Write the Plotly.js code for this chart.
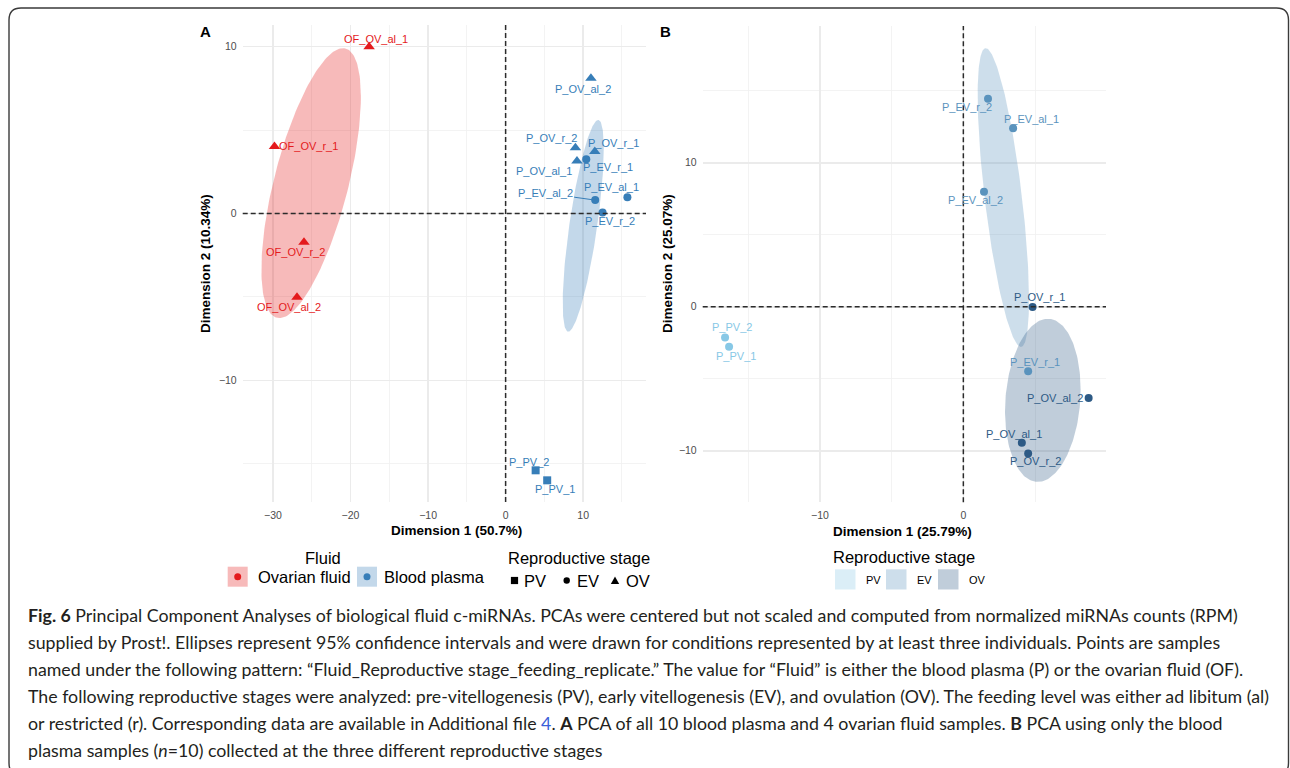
<!DOCTYPE html>
<html>
<head>
<meta charset="utf-8">
<script src="https://cdn.plot.ly/plotly-3.0.1.min.js"></script>
<style>
html,body{margin:0;padding:0;background:#ffffff;}
#chart{width:1290px;height:768px;}
</style>
</head>
<body>
<div id="chart"></div>
<script>
// ---------------- Panel A data (all samples) ----------------
const samplesA = ['OF_OV_al_1','OF_OV_r_1','OF_OV_r_2','OF_OV_al_2','P_OV_al_2','P_OV_r_2','P_OV_r_1','P_EV_r_1','P_OV_al_1','P_EV_al_2','P_EV_al_1','P_EV_r_2','P_PV_2','P_PV_1'];
const dim1A = [-17.6,-29.8,-26.0,-26.9,11.0,9.0,11.5,10.4,9.2,11.55,15.7,12.5,3.87,5.36];
const dim2A = [10.0,4.02,-1.73,-5.02,8.1,3.94,3.72,3.25,3.15,0.8,0.97,0.06,-15.4,-16.0];
const fluidA = ['Ovarian fluid','Ovarian fluid','Ovarian fluid','Ovarian fluid','Blood plasma','Blood plasma','Blood plasma','Blood plasma','Blood plasma','Blood plasma','Blood plasma','Blood plasma','Blood plasma','Blood plasma'];
const stageA = ['OV','OV','OV','OV','OV','OV','OV','EV','OV','EV','EV','EV','PV','PV'];
const fluidLevels = ['Ovarian fluid','Blood plasma'];
const stageLevels = ['PV','EV','OV'];

// ---------------- Panel B data (blood plasma only) ----------------
const samplesB = ['P_EV_r_2','P_EV_al_1','P_EV_al_2','P_OV_r_1','P_PV_2','P_PV_1','P_EV_r_1','P_OV_al_2','P_OV_al_1','P_OV_r_2'];
const dim1B = [1.72,3.47,1.44,4.83,-16.62,-16.34,4.52,8.74,4.08,4.52];
const dim2B = [14.44,12.39,7.99,-0.02,-2.13,-2.78,-4.47,-6.34,-9.44,-10.19];
const stageB = ['EV','EV','EV','OV','PV','PV','EV','OV','OV','OV'];

// axis labels
const xTitleA = 'Dimension 1 (50.7%)', yTitleA = 'Dimension 2 (10.34%)';
const xTitleB = 'Dimension 1 (25.79%)', yTitleB = 'Dimension 2 (25.07%)';

// ---------------- styles ----------------
const W = 1290, H = 768;
const FONT = 'Liberation Sans, Arial, Helvetica, sans-serif';
const fluidColor = {'Ovarian fluid':'#E41A1C','Blood plasma':'#377EB8'};
const fluidFill = {'Ovarian fluid':'rgba(228,26,28,0.30)','Blood plasma':'rgba(55,126,184,0.30)'};
const stageColor = {'PV':'#87C8E6','EV':'#5A93BD','OV':'#2D5A85'};
const stageFill = {'PV':'rgba(135,200,230,0.30)','EV':'rgba(90,147,189,0.30)','OV':'rgba(45,90,133,0.30)'};
const stageSymbol = {'PV':'square','EV':'circle','OV':'triangle-up'};
const stageSize = {'PV':8,'EV':8,'OV':10};

// label nudges in pixels (text centre relative to point)
const nudgeA = {
  'OF_OV_al_1':[7,-8],'OF_OV_r_1':[34,0],'OF_OV_r_2':[-8,10],'OF_OV_al_2':[-8,10],
  'P_OV_al_2':[-8,11],'P_OV_r_2':[-24,-10],'P_OV_r_1':[19,-8],'P_EV_r_1':[22,8],
  'P_OV_al_1':[-33,10],'P_EV_al_2':[-50,-7],'P_EV_al_1':[-16,-10],'P_EV_r_2':[7,9],
  'P_PV_2':[-7,-8],'P_PV_1':[8,9]
};
const segmentA = {'P_EV_al_2':true};
const nudgeB = {
  'P_EV_r_2':[-21,8],'P_EV_al_1':[18,-9],'P_EV_al_2':[-8,8],'P_OV_r_1':[7,-10],
  'P_PV_2':[7,-10],'P_PV_1':[7,9],'P_EV_r_1':[7,-9],'P_OV_al_2':[-34,0],
  'P_OV_al_1':[-8,-9],'P_OV_r_2':[7,8]
};

// pixel -> paper helpers
const px = x => x / W;
const py = y => 1 - y / H;

// 95% confidence ellipse of the group mean (chi-square, 2 df)
function confEllipse(xs, ys, level, nPts) {
  const n = xs.length;
  const mx = xs.reduce((a,b)=>a+b,0)/n, my = ys.reduce((a,b)=>a+b,0)/n;
  let sxx=0, syy=0, sxy=0;
  for (let i=0;i<n;i++){ const dx=xs[i]-mx, dy=ys[i]-my; sxx+=dx*dx; syy+=dy*dy; sxy+=dx*dy; }
  sxx/=(n-1); syy/=(n-1); sxy/=(n-1);
  const r = Math.sqrt(-2*Math.log(1-level)/n);
  const l11 = Math.sqrt(sxx), l21 = sxy/l11, l22 = Math.sqrt(Math.max(syy - l21*l21, 0));
  const ex=[], ey=[];
  for (let k=0;k<=nPts;k++){
    const t = 2*Math.PI*k/nPts, c=Math.cos(t), s=Math.sin(t);
    ex.push(mx + r*l11*c);
    ey.push(my + r*(l21*c + l22*s));
  }
  return {x:ex, y:ey};
}

const traces = [];
const annotations = [];
const shapes = [];

// ---- Panel A ellipses (by fluid) ----
fluidLevels.forEach(f => {
  const idx = fluidA.map((v,i)=>v===f?i:-1).filter(i=>i>=0);
  if (idx.length >= 3) {
    const e = confEllipse(idx.map(i=>dim1A[i]), idx.map(i=>dim2A[i]), 0.95, 200);
    traces.push({type:'scatter', mode:'lines', x:e.x, y:e.y, xaxis:'x', yaxis:'y',
      fill:'toself', fillcolor:fluidFill[f], line:{width:0, color:'rgba(0,0,0,0)'}, hoverinfo:'skip', name:f+' ellipse'});
  }
});
// ---- Panel B ellipses (by stage) ----
stageLevels.forEach(s => {
  const idx = stageB.map((v,i)=>v===s?i:-1).filter(i=>i>=0);
  if (idx.length >= 3) {
    const e = confEllipse(idx.map(i=>dim1B[i]), idx.map(i=>dim2B[i]), 0.95, 200);
    traces.push({type:'scatter', mode:'lines', x:e.x, y:e.y, xaxis:'x2', yaxis:'y2',
      fill:'toself', fillcolor:stageFill[s], line:{width:0, color:'rgba(0,0,0,0)'}, hoverinfo:'skip', name:s+' ellipse'});
  }
});

// ---- Panel A points ----
fluidLevels.forEach(f => {
  const idx = fluidA.map((v,i)=>v===f?i:-1).filter(i=>i>=0);
  traces.push({type:'scatter', mode:'markers', xaxis:'x', yaxis:'y', name:f,
    x: idx.map(i=>dim1A[i]), y: idx.map(i=>dim2A[i]), text: idx.map(i=>samplesA[i]),
    marker:{color:fluidColor[f], opacity:1, symbol: idx.map(i=>stageSymbol[stageA[i]]), size: idx.map(i=>stageSize[stageA[i]]), line:{width:0}}});
});
// ---- Panel B points ----
stageLevels.forEach(s => {
  const idx = stageB.map((v,i)=>v===s?i:-1).filter(i=>i>=0);
  traces.push({type:'scatter', mode:'markers', xaxis:'x2', yaxis:'y2', name:s,
    x: idx.map(i=>dim1B[i]), y: idx.map(i=>dim2B[i]), text: idx.map(i=>samplesB[i]),
    marker:{color:stageColor[s], opacity:1, symbol:'circle', size:8, line:{width:0}}});
});

// ---- point labels ----
samplesA.forEach((name,i) => {
  const nd = nudgeA[name] || [0,-10];
  const col = fluidColor[fluidA[i]];
  annotations.push({xref:'x', yref:'y', x:dim1A[i], y:dim2A[i], text:name, showarrow:true,
    ax:nd[0], ay:nd[1], arrowhead:0, arrowwidth:1, standoff:3,
    arrowcolor: segmentA[name] ? col : 'rgba(0,0,0,0)',
    font:{family:FONT, size:11, color:col}});
});
samplesB.forEach((name,i) => {
  const nd = nudgeB[name] || [0,-10];
  const col = stageColor[stageB[i]];
  annotations.push({xref:'x2', yref:'y2', x:dim1B[i], y:dim2B[i], text:name, showarrow:true,
    ax:nd[0], ay:nd[1], arrowhead:0, arrowwidth:1, standoff:3, arrowcolor:'rgba(0,0,0,0)',
    font:{family:FONT, size:11, color:col}});
});

// ---- reference dashed lines at 0 ----
[['x','y'],['x2','y2']].forEach(([xa,ya]) => {
  shapes.push({type:'line', xref:xa+' domain', yref:ya, x0:0, x1:1, y0:0, y1:0, line:{color:'#2b2b2b', width:1.5, dash:'5px,3px'}});
  shapes.push({type:'line', xref:xa, yref:ya+' domain', x0:0, x1:0, y0:0, y1:1, line:{color:'#2b2b2b', width:1.5, dash:'5px,3px'}});
});

// ---- panel letters and axis titles ----
function txt(x, y, text, size, opts) {
  return Object.assign({xref:'paper', yref:'paper', x:px(x), y:py(y), text:text, showarrow:false,
    xanchor:'center', yanchor:'middle', font:{family:FONT, size:size, color:'#000000'}}, opts||{});
}
annotations.push(txt(205, 31, '<b>A</b>', 15));
annotations.push(txt(665, 31, '<b>B</b>', 15));
annotations.push(txt(457, 530, '<b>'+xTitleA+'</b>', 13.5));
annotations.push(txt(903, 531.5, '<b>'+xTitleB+'</b>', 13.5));
annotations.push(txt(205, 264, '<b>'+yTitleA+'</b>', 13.5, {textangle:-90}));
annotations.push(txt(667, 264, '<b>'+yTitleB+'</b>', 13.5, {textangle:-90}));

// ---- legend panel A: Fluid ----
annotations.push(txt(323, 558, 'Fluid', 16.5));
const fluidKeyX = [227.7, 357];
const fluidTextX = [256, 381.5];
fluidLevels.forEach((f,k) => {
  const x0 = fluidKeyX[k];
  shapes.push({type:'rect', xref:'paper', yref:'paper', x0:px(x0), x1:px(x0+20), y0:py(586.7), y1:py(566.7), fillcolor:fluidFill[f], line:{width:0}});
  shapes.push({type:'circle', xref:'paper', yref:'paper', x0:px(x0+6.5), x1:px(x0+13.5), y0:py(580.2), y1:py(573.2), fillcolor:fluidColor[f], line:{width:0}});
  annotations.push(txt(fluidTextX[k], 577, f, 16.5, {xanchor:'left'}));
});
// ---- legend panel A: Reproductive stage ----
annotations.push(txt(506, 558, 'Reproductive stage', 16.5, {xanchor:'left'}));
const stKeyX = {'PV':514.5, 'EV':566.7, 'OV':615};
const stTextX = {'PV':522, 'EV':575, 'OV':623.5};
stageLevels.forEach(s => {
  const cx = stKeyX[s], cy = 580.5;
  if (s==='PV') shapes.push({type:'rect', xref:'paper', yref:'paper', x0:px(cx-3.6), x1:px(cx+3.6), y0:py(cy+3.6), y1:py(cy-3.6), fillcolor:'#000000', line:{width:0}});
  if (s==='EV') shapes.push({type:'circle', xref:'paper', yref:'paper', x0:px(cx-3.2), x1:px(cx+3.2), y0:py(cy+3.2), y1:py(cy-3.2), fillcolor:'#000000', line:{width:0}});
  if (s==='OV') shapes.push({type:'path', xref:'paper', yref:'paper',
    path:'M '+px(cx-4.2)+','+py(cy+3.5)+' L '+px(cx+4.2)+','+py(cy+3.5)+' L '+px(cx)+','+py(cy-4)+' Z', fillcolor:'#000000', line:{width:0}});
  annotations.push(txt(stTextX[s], 580.5, s, 16.5, {xanchor:'left'}));
});
// ---- legend panel B ----
annotations.push(txt(831, 556.5, 'Reproductive stage', 16.5, {xanchor:'left'}));
const bKeyX = {'PV':835, 'EV':886, 'OV':938};
const bTextX = {'PV':864, 'EV':915, 'OV':966.5};
stageLevels.forEach(s => {
  const x0 = bKeyX[s];
  shapes.push({type:'rect', xref:'paper', yref:'paper', x0:px(x0), x1:px(x0+20.5), y0:py(589.5), y1:py(569.3), fillcolor:stageFill[s], line:{width:0}});
  annotations.push(txt(bTextX[s], 579.5, s, 11, {xanchor:'left'}));
});

// ---- figure border (rounded box) ----
(function(){
  const x0=9, y0=8, x1=1288.5, y1=775, r=12;
  const p = (x,y)=>px(x)+','+py(y);
  const path = 'M '+p(x0+r,y0)+' L '+p(x1-r,y0)+' Q '+p(x1,y0)+' '+p(x1,y0+r)+' L '+p(x1,y1-r)+
    ' Q '+p(x1,y1)+' '+p(x1-r,y1)+' L '+p(x0+r,y1)+' Q '+p(x0,y1)+' '+p(x0,y1-r)+' L '+p(x0,y0+r)+' Q '+p(x0,y0)+' '+p(x0+r,y0)+' Z';
  shapes.push({type:'path', xref:'paper', yref:'paper', path:path, line:{color:'#3a3a3a', width:1.4}, fillcolor:'rgba(0,0,0,0)', layer:'below'});
})();

// ---- caption ----
const captionLines = [
  '<b>Fig. 6</b> Principal Component Analyses of biological fluid c-miRNAs. PCAs were centered but not scaled and computed from normalized miRNAs counts (RPM)',
  'supplied by Prost!. Ellipses represent 95% confidence intervals and were drawn for conditions represented by at least three individuals. Points are samples',
  'named under the following pattern: \u201cFluid_Reproductive stage_feeding_replicate.\u201d The value for \u201cFluid\u201d is either the blood plasma (P) or the ovarian fluid (OF).',
  'The following reproductive stages were analyzed: pre-vitellogenesis (PV), early vitellogenesis (EV), and ovulation (OV). The feeding level was either ad libitum (al)',
  'or restricted (r). Corresponding data are available in Additional file <span style="color:#3b5fd9">4</span>. <b>A</b> PCA of all 10 blood plasma and 4 ovarian fluid samples. <b>B</b> PCA using only the blood',
  'plasma samples (<i>n</i>=10) collected at the three different reproductive stages'
];
const captionY = [614.5, 641.8, 668.8, 695.8, 722.8, 750];
const captionRight = [1264, 1224, 1258, 1265, 1238, 607];
const capLeft = 26;

// choose caption font + size so every line fits its width in the reference
let CAP_FONT = 'Lato', capSize = 16;
(function(){
  try {
    const cv = document.createElement('canvas').getContext('2d');
    const base = 20;
    function width(font, html) {
      const parts = html.replace(/<span[^>]*>|<\/span>|<i>|<\/i>/g,'').split(/(<b>.*?<\/b>)/);
      let w = 0;
      parts.forEach(p => {
        if (!p) return;
        const bold = p.startsWith('<b>');
        const t = p.replace(/<\/?b>/g,'');
        cv.font = (bold?'bold ':'') + base + 'px "' + font + '"';
        w += cv.measureText(t).width;
      });
      return w;
    }
    let best = null;
    ['Lato','Open Sans','Noto Sans'].forEach(font => {
      const fits = captionLines.map((l,k) => base * (captionRight[k]-capLeft) / width(font, l));
      const mean = fits.reduce((a,b)=>a+b,0)/fits.length;
      const spread = Math.max(...fits) - Math.min(...fits);
      const score = spread / mean;
      if (!best || score < best.score) best = {font, size: Math.min(...fits.map(f=>f*1.004)), score};
    });
    CAP_FONT = best.font; capSize = best.size;
  } catch(e) {}
})();
captionLines.forEach((line,k) => {
  annotations.push({xref:'paper', yref:'paper', x:px(capLeft), y:py(captionY[k]), xanchor:'left', yanchor:'middle',
    text:line, showarrow:false, align:'left', font:{family:CAP_FONT+', Open Sans, sans-serif', size:capSize, color:'#231f20'}});
});

// ---- axes ----
function axis(domain, range, extra) {
  return Object.assign({domain:domain, range:range, tickmode:'linear', tick0:0, dtick:10,
    showgrid:true, gridcolor:'#ebebeb', gridwidth:1.5, zeroline:false, showline:false, ticks:'',
    ticklabelstandoff:5, tickfont:{family:FONT, size:10.5, color:'#4d4d4d'},
    minor:{tickmode:'linear', tick0:0, dtick:5, showgrid:true, gridcolor:'#f0f0f0', gridwidth:0.8, ticks:''},
    fixedrange:true}, extra||{});
}
const layout = {
  width:W, height:H, margin:{l:0, r:0, t:0, b:0}, paper_bgcolor:'#ffffff', plot_bgcolor:'#ffffff',
  showlegend:false, font:{family:FONT},
  xaxis: axis([px(242.7), px(646)], [-33.9, 18.1], {anchor:'y'}),
  yaxis: axis([py(502), py(25)], [-17.3, 11.3], {anchor:'x'}),
  xaxis2: axis([px(702.7), px(1106)], [-18.18, 9.95], {anchor:'y2'}),
  yaxis2: axis([py(502.3), py(26)], [-13.58, 19.5], {anchor:'x2'}),
  shapes: shapes,
  annotations: annotations
};
Plotly.newPlot('chart', traces, layout, {displayModeBar:false, staticPlot:true});
</script>
</body>
</html>
